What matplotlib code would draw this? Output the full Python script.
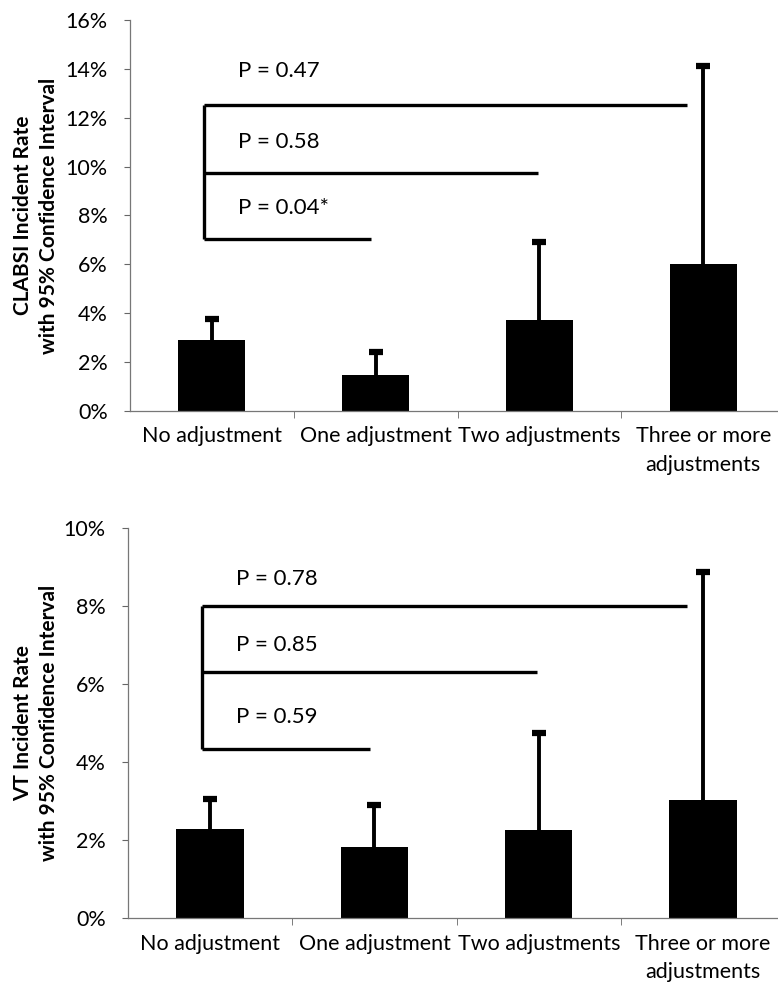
import numpy as np
import matplotlib.pyplot as plt

plt.rcParams['font.family'] = ['Lato', 'DejaVu Sans']

categories = ['No adjustment', 'One adjustment', 'Two adjustments', 'Three or more\nadjustments']

# CLABSI incident rate (%) and upper 95% CI
clabsi_rate = [2.9, 1.47, 3.72, 6.0]
clabsi_upper = [3.76, 2.42, 6.9, 14.1]
clabsi_p = ['P = 0.47', 'P = 0.58', 'P = 0.04*']
clabsi_bracket_y = [12.5, 9.75, 7.05]
clabsi_text_y = [13.9, 11.0, 8.3]

# VT incident rate (%) and upper 95% CI
vt_rate = [2.28, 1.82, 2.26, 3.03]
vt_upper = [3.05, 2.9, 4.75, 8.87]
vt_p = ['P = 0.78', 'P = 0.85', 'P = 0.59']
vt_bracket_y = [8.0, 6.3, 4.33]
vt_text_y = [8.68, 7.0, 5.16]

bracket_end = [2.9, 1.99, 0.97]
bracket_start = -0.05


def draw_panel(ax, rate, upper, ymax, ylabel, p_labels, b_y, t_y, label_x):
    x = np.arange(len(categories))
    rate = np.array(rate)
    upper = np.array(upper)
    ax.bar(x, rate, width=0.41, color='black', zorder=2)
    # upper-only confidence interval whiskers
    ax.vlines(x, rate, upper, color='black', lw=2.8, zorder=3)
    ax.plot(x, upper, linestyle='none', marker='_', markersize=10,
            markeredgewidth=4.5, color='black', zorder=3)

    # significance brackets
    ax.plot([bracket_start, bracket_start], [b_y[-1], b_y[0]], color='black', lw=2.4,
            solid_capstyle='butt', zorder=3)
    for yb, xe in zip(b_y, bracket_end):
        ax.plot([bracket_start, xe], [yb, yb], color='black', lw=2.4,
                solid_capstyle='butt', zorder=3)
    for lbl, yt in zip(p_labels, t_y):
        ax.text(0.16, yt, lbl, fontsize=16, va='center', ha='left')

    ax.set_xlim(-0.5, 3.456)
    ax.set_ylim(0, ymax)
    ticks = np.arange(0, ymax + 0.1, 2)
    ax.set_yticks(ticks)
    ax.set_yticklabels([f'{int(v)}%' for v in ticks], fontsize=15.5)
    ax.set_xticks(x)
    ax.set_xticklabels(categories, fontsize=15.5, linespacing=1.55)
    ax.set_xticks([0.5, 1.5, 2.5], minor=True)
    ax.tick_params(axis='x', which='major', length=0, pad=11)
    ax.tick_params(axis='x', which='minor', length=5, color='#666666')
    ax.tick_params(axis='y', length=4, color='#666666', pad=12)
    for s in ['top', 'right']:
        ax.spines[s].set_visible(False)
    for s in ['left', 'bottom']:
        ax.spines[s].set_color('#777777')
        ax.spines[s].set_linewidth(0.9)
    ax.set_ylabel(ylabel, fontsize=15, fontweight='bold', linespacing=1.4,
                  va='center')
    ax.yaxis.set_label_coords(label_x, 0.5)


fig = plt.figure(figsize=(7.78, 9.86), dpi=100)
ax1 = fig.add_axes([0.167, 0.5832, 0.833, 0.3966])
ax2 = fig.add_axes([0.1645, 0.0687, 0.8355, 0.3962])

draw_panel(ax1, clabsi_rate, clabsi_upper, 16,
           'CLABSI Incident Rate\nwith 95% Confidence Interval',
           clabsi_p, clabsi_bracket_y, clabsi_text_y, -0.145)
draw_panel(ax2, vt_rate, vt_upper, 10,
           'VT Incident Rate\nwith 95% Confidence Interval',
           vt_p, vt_bracket_y, vt_text_y, -0.1415)

fig.savefig('out.png', dpi=100)
